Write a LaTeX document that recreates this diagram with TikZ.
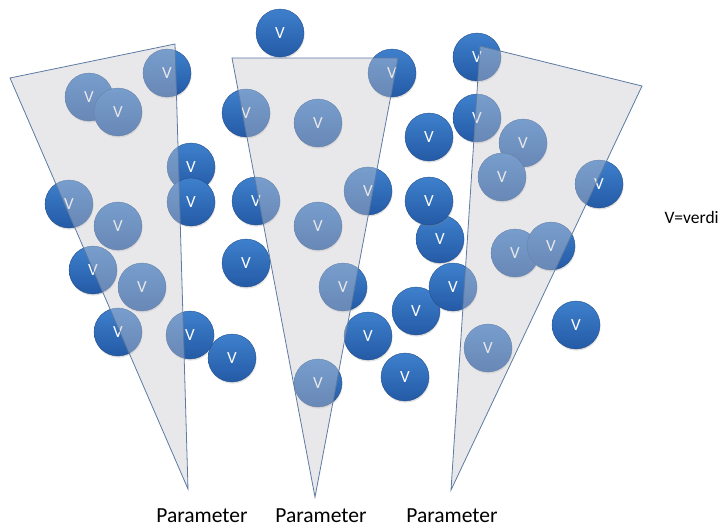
\documentclass[tikz,border=0pt]{standalone}
\usepackage{fontspec}
\setmainfont{Carlito}
\usetikzlibrary{shadows}
\definecolor{balltop}{RGB}{62,128,204}
\definecolor{ballbot}{RGB}{36,90,166}
\definecolor{funnelfill}{RGB}{200,200,206}
\definecolor{funneledge}{RGB}{92,122,162}

\begin{document}
\begin{tikzpicture}[x=1pt, y=-1pt,
    ball/.style={circle, minimum size=48pt, inner sep=0pt, top color=balltop, bottom color=ballbot,
      draw=ballbot!80!black, line width=0.3pt, text=white, font=\fontsize{17}{17}\selectfont,
      drop shadow={opacity=0.25, shadow xshift=0.6pt, shadow yshift=-1.6pt}},
    funnel/.style={draw=funneledge, line width=0.8pt, fill=funnelfill, fill opacity=0.42},
    caption/.style={font=\fontsize{21.5}{21.5}\selectfont, text=black, anchor=base, inner sep=0pt}]
      \useasboundingbox (0,0) rectangle (727,528);
      % the values, drawn first so the funnels sit over them
      \foreach \x/\y [count=\i] in {89/97, 118/112, 167/73, 191/167, 191/202, 69/204, 118/226,
          93/270, 142/287, 118/332, 190/335, 232/358, 280/33, 392/73, 246/113, 318/123,
          429/137, 256/201, 368/191, 318/226, 440/239, 429/201, 246/263, 343/287, 368/336,
          416/311, 453/287, 405/377, 318/383, 477/57, 477/118, 523/143, 502/177, 599/184,
          515/253, 551/246, 576/325, 488/348}
        \node[ball] (v\i) at (\x,\y) {V};
      % three funnels
      \filldraw[funnel] (10,78) -- (175,44) -- (188,489) -- cycle;
      \filldraw[funnel] (232,58) -- (398,58) -- (315,497) -- cycle;
      \filldraw[funnel] (480,46) -- (642,86) -- (451,490) -- cycle;
      % labels
      \node[caption] (par1) at (202,522) {Parameter};
      \node[caption] (par2) at (321,522) {Parameter};
      \node[caption] (par3) at (452,522) {Parameter};
      \node[font=\fontsize{17.5}{17.5}\selectfont, anchor=west] (legend) at (661,217) {V=verdi};
\end{tikzpicture}
\end{document}
